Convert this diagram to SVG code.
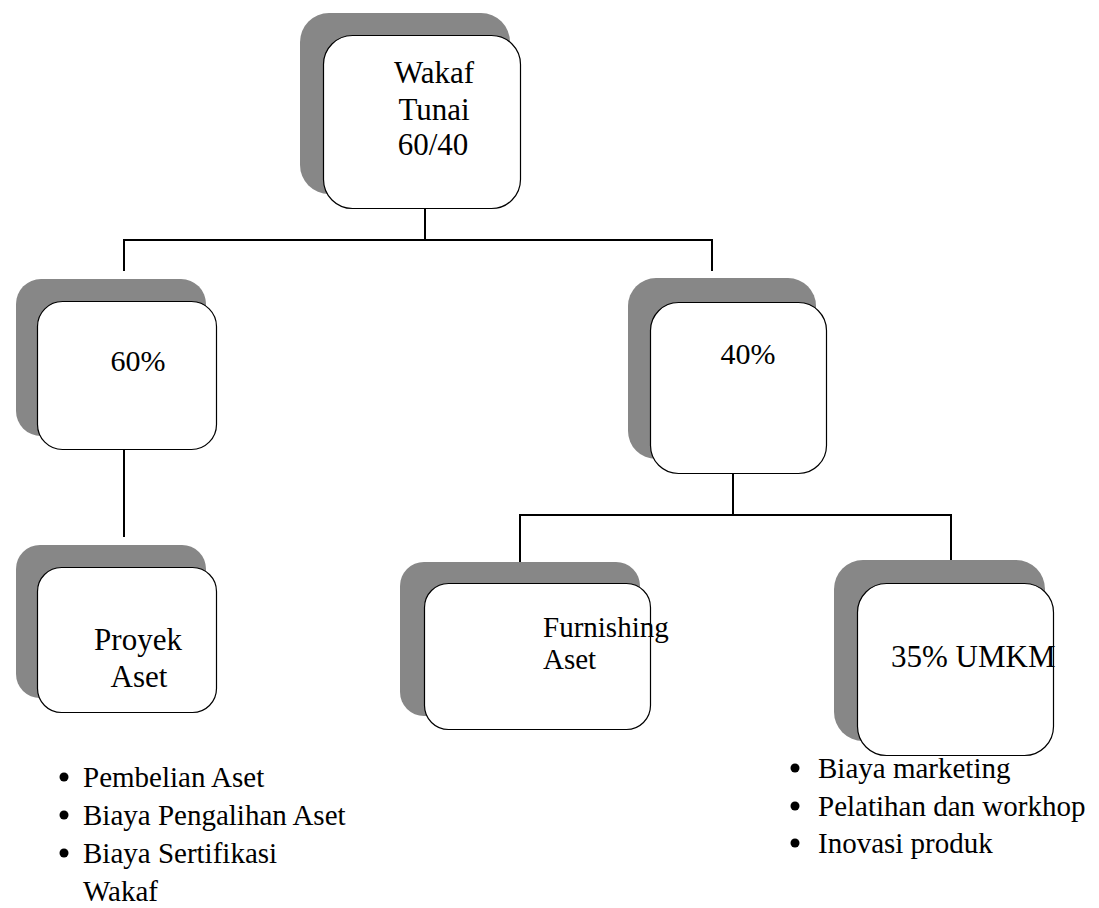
<svg xmlns="http://www.w3.org/2000/svg" width="1099" height="908" viewBox="0 0 1099 908">
<style>
.sh{fill:#878787;stroke:none}
.bx{fill:#fff;stroke:#000;stroke-width:1.2}
.t{font-family:'Liberation Serif',serif;fill:#000}
.c{stroke:#000;stroke-width:2;fill:none}
</style>
<rect width="1099" height="908" fill="#fff"/>
<g id="connectors">
<path class="c" d="M425,208V240M124,240H712M124,239V271M712,239V271"/>
<path class="c" d="M124,449V537"/>
<path class="c" d="M733,473V515M520,515H951M520,514V566M951,514V566"/>
</g>
<g id="n-wakaf">
<rect class="sh" x="300" y="13" width="210" height="181" rx="29"/>
<rect class="bx" x="323.5" y="35.5" width="197" height="173" rx="29"/>
<text class="t" font-family="Liberation Serif, serif" font-size="31" text-anchor="middle"><tspan x="434" y="83">Wakaf</tspan><tspan x="434" y="120">Tunai</tspan><tspan x="433" y="155">60/40</tspan></text>
</g>
<g id="n-60">
<rect class="sh" x="16" y="279" width="190" height="157" rx="25"/>
<rect class="bx" x="37.5" y="301.5" width="179" height="148" rx="25"/>
<text class="t" font-family="Liberation Serif, serif" font-size="30" x="138" y="371" text-anchor="middle">60%</text>
</g>
<g id="n-40">
<rect class="sh" x="628" y="278" width="188" height="181" rx="28"/>
<rect class="bx" x="650.5" y="302.5" width="176" height="171" rx="28"/>
<text class="t" font-family="Liberation Serif, serif" font-size="30" x="748" y="364" text-anchor="middle">40%</text>
</g>
<g id="n-proyek">
<rect class="sh" x="16" y="545" width="190" height="153" rx="24"/>
<rect class="bx" x="37.5" y="567.5" width="179" height="145" rx="24"/>
<text class="t" font-family="Liberation Serif, serif" font-size="31" text-anchor="middle"><tspan x="138" y="650">Proyek</tspan><tspan x="139" y="687">Aset</tspan></text>
</g>
<g id="n-furnishing">
<rect class="sh" x="400" y="562" width="240" height="154" rx="24"/>
<rect class="bx" x="424.5" y="583.5" width="226" height="146" rx="24"/>
<text class="t" font-family="Liberation Serif, serif" font-size="29"><tspan x="543" y="637">Furnishing</tspan><tspan x="543" y="669">Aset</tspan></text>
</g>
<g id="n-umkm">
<rect class="sh" x="834" y="560" width="211" height="181" rx="29"/>
<rect class="bx" x="857.5" y="583.5" width="196" height="172" rx="29"/>
<text class="t" font-family="Liberation Serif, serif" font-size="31" x="891" y="667">35% UMKM</text>
</g>
<g id="list-left" class="t" font-family="Liberation Serif, serif" font-size="29">
<circle cx="64" cy="777" r="4.5"/>
<circle cx="64" cy="815" r="4.5"/>
<circle cx="64" cy="853" r="4.5"/>
<text x="83" y="787">Pembelian Aset</text>
<text x="83" y="825">Biaya Pengalihan Aset</text>
<text x="83" y="863">Biaya Sertifikasi</text>
<text x="83" y="901">Wakaf</text>
</g>
<g id="list-right" class="t" font-family="Liberation Serif, serif" font-size="29">
<circle cx="795" cy="768" r="4.5"/>
<circle cx="795" cy="806" r="4.5"/>
<circle cx="795" cy="843" r="4.5"/>
<text x="818" y="778">Biaya marketing</text>
<text x="818" y="816">Pelatihan dan workhop</text>
<text x="818" y="853">Inovasi produk</text>
</g>
</svg>
